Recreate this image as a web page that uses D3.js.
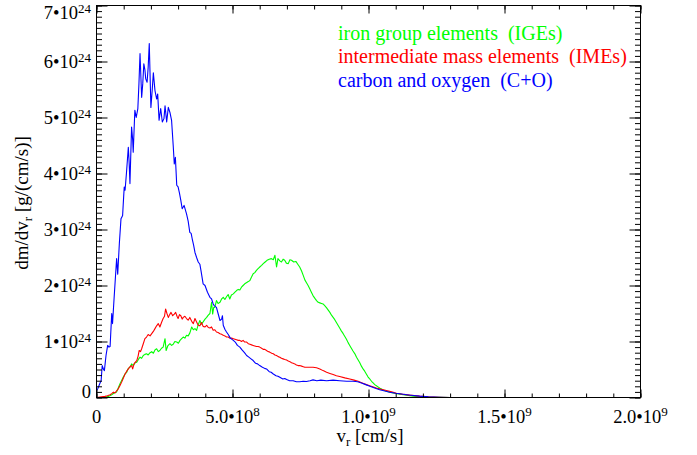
<!DOCTYPE html>
<html><head><meta charset="utf-8">
<script src="https://cdn.jsdelivr.net/npm/d3@7"></script>
<style>
body{margin:0;background:#fff}
svg{display:block}
text{font-family:"Liberation Serif","Times New Roman",serif;fill:#000}
</style>
</head><body>
<svg id="c" width="697" height="455"></svg>
<script>
// velocity in units of 1e8 cm/s, dm/dv in units of 1e24 g/(cm/s)
const VEL_UNIT = 1e8, MASS_UNIT = 1e24;

const igeData = [[0,0],[0.31,0.005],[0.45,0.02],[0.56,0.05],[0.65,0.08],[0.74,0.10],[0.80,0.17],[0.86,0.24],[0.92,0.30],[0.98,0.36],[1.05,0.42],[1.11,0.45],[1.17,0.52],[1.23,0.54],[1.29,0.60],[1.35,0.57],[1.42,0.62],[1.48,0.63],[1.54,0.68],[1.60,0.72],[1.66,0.70],[1.72,0.75],[1.78,0.77],[1.84,0.78],[1.90,0.76],[1.97,0.80],[2.03,0.82],[2.09,0.79],[2.15,0.85],[2.21,0.87],[2.27,0.82],[2.33,0.84],[2.39,0.88],[2.45,0.90],[2.52,1.05],[2.56,0.84],[2.62,0.92],[2.70,0.96],[2.76,0.93],[2.82,0.95],[2.88,1.00],[2.95,0.99],[3.01,0.97],[3.07,1.02],[3.13,1.05],[3.19,1.08],[3.25,1.06],[3.31,1.11],[3.37,1.10],[3.43,1.15],[3.50,1.26],[3.56,1.21],[3.62,1.23],[3.68,1.20],[3.74,1.30],[3.80,1.375],[3.86,1.31],[3.92,1.35],[3.99,1.40],[4.05,1.43],[4.11,1.47],[4.17,1.50],[4.23,1.70],[4.27,1.49],[4.31,1.61],[4.35,1.61],[4.41,1.73],[4.47,1.68],[4.54,1.70],[4.60,1.76],[4.66,1.79],[4.72,1.75],[4.78,1.80],[4.84,1.84],[4.90,1.76],[4.96,1.83],[5.03,1.85],[5.09,1.88],[5.15,1.91],[5.21,1.93],[5.27,1.92],[5.33,1.97],[5.39,2.00],[5.45,2.03],[5.51,2.05],[5.58,2.07],[5.64,2.09],[5.70,2.15],[5.76,2.21],[5.82,2.23],[5.88,2.27],[5.94,2.30],[6.00,2.33],[6.07,2.36],[6.13,2.39],[6.20,2.42],[6.27,2.45],[6.35,2.47],[6.43,2.48],[6.50,2.46],[6.56,2.54],[6.62,2.33],[6.67,2.48],[6.74,2.44],[6.80,2.42],[6.86,2.47],[6.92,2.45],[6.98,2.40],[7.05,2.39],[7.11,2.46],[7.17,2.45],[7.25,2.42],[7.33,2.43],[7.40,2.38],[7.47,2.33],[7.54,2.26],[7.60,2.18],[7.66,2.10],[7.72,2.05],[7.78,2.00],[7.84,1.94],[7.90,1.88],[7.96,1.82],[8.03,1.77],[8.09,1.73],[8.15,1.70],[8.21,1.69],[8.27,1.68],[8.33,1.67],[8.39,1.64],[8.46,1.60],[8.52,1.56],[8.58,1.52],[8.64,1.47],[8.70,1.43],[8.76,1.39],[8.82,1.34],[8.88,1.29],[8.94,1.24],[9.00,1.19],[9.07,1.14],[9.13,1.09],[9.19,1.04],[9.25,0.98],[9.31,0.93],[9.37,0.88],[9.43,0.83],[9.50,0.78],[9.56,0.72],[9.62,0.67],[9.68,0.62],[9.74,0.56],[9.80,0.51],[9.86,0.47],[9.92,0.42],[9.98,0.37],[10.05,0.33],[10.11,0.29],[10.17,0.26],[10.23,0.23],[10.29,0.21],[10.35,0.19],[10.42,0.165],[10.48,0.15],[10.54,0.135],[10.66,0.11],[10.78,0.095],[10.95,0.075],[11.15,0.06],[11.40,0.04],[11.64,0.025],[11.88,0.015],[12.2,0.007],[12.6,0.002],[13.0,0],[20,0]];

const imeData = [[0,0],[0.31,0.02],[0.40,0.03],[0.50,0.05],[0.56,0.07],[0.62,0.095],[0.68,0.08],[0.74,0.12],[0.80,0.155],[0.86,0.21],[0.92,0.27],[0.98,0.34],[1.05,0.42],[1.11,0.47],[1.17,0.51],[1.23,0.55],[1.29,0.57],[1.33,0.51],[1.38,0.60],[1.43,0.63],[1.48,0.66],[1.53,0.74],[1.57,0.84],[1.62,0.82],[1.66,0.87],[1.72,0.96],[1.78,1.05],[1.84,1.08],[1.90,1.125],[1.97,1.10],[2.03,1.14],[2.09,1.18],[2.15,1.23],[2.21,1.28],[2.27,1.32],[2.33,1.26],[2.39,1.34],[2.45,1.41],[2.50,1.45],[2.54,1.58],[2.59,1.50],[2.64,1.43],[2.69,1.48],[2.74,1.52],[2.80,1.46],[2.86,1.49],[2.91,1.52],[2.96,1.45],[3.00,1.41],[3.05,1.48],[3.10,1.46],[3.15,1.40],[3.19,1.43],[3.25,1.45],[3.31,1.41],[3.37,1.38],[3.43,1.43],[3.50,1.36],[3.56,1.32],[3.62,1.41],[3.68,1.35],[3.74,1.29],[3.80,1.28],[3.86,1.34],[3.92,1.27],[3.99,1.26],[4.05,1.29],[4.11,1.25],[4.17,1.24],[4.23,1.26],[4.29,1.20],[4.35,1.21],[4.41,1.17],[4.47,1.16],[4.54,1.14],[4.60,1.13],[4.66,1.11],[4.72,1.10],[4.78,1.08],[4.84,1.08],[4.90,1.06],[4.97,1.06],[5.03,1.05],[5.09,1.04],[5.15,1.03],[5.21,1.02],[5.27,1.02],[5.33,1.00],[5.39,1.02],[5.45,0.99],[5.52,0.99],[5.58,0.96],[5.64,0.95],[5.70,0.94],[5.76,0.93],[5.82,0.92],[5.88,0.91],[5.94,0.91],[6.00,0.90],[6.07,0.88],[6.13,0.86],[6.19,0.86],[6.25,0.84],[6.31,0.82],[6.37,0.81],[6.44,0.79],[6.50,0.78],[6.56,0.76],[6.62,0.75],[6.68,0.73],[6.74,0.72],[6.80,0.70],[6.86,0.69],[6.92,0.68],[6.99,0.67],[7.05,0.65],[7.11,0.64],[7.17,0.62],[7.23,0.61],[7.29,0.60],[7.35,0.58],[7.41,0.57],[7.47,0.57],[7.54,0.56],[7.60,0.55],[7.66,0.54],[7.72,0.54],[7.84,0.54],[7.96,0.54],[8.09,0.53],[8.21,0.51],[8.33,0.48],[8.46,0.45],[8.58,0.43],[8.70,0.41],[8.82,0.39],[8.94,0.375],[9.13,0.35],[9.31,0.33],[9.47,0.31],[9.62,0.29],[9.77,0.26],[9.92,0.23],[10.10,0.20],[10.29,0.17],[10.47,0.145],[10.66,0.125],[10.85,0.10],[11.03,0.075],[11.3,0.055],[11.51,0.042],[11.88,0.024],[12.2,0.012],[12.6,0.004],[13.0,0],[20,0]];

const coData = [[0,0.12],[0.05,0.16],[0.13,0.26],[0.17,0.30],[0.21,0.57],[0.26,0.50],[0.29,0.48],[0.35,0.75],[0.41,0.93],[0.46,0.90],[0.50,0.91],[0.56,1.50],[0.59,1.32],[0.65,1.80],[0.70,2.18],[0.74,2.48],[0.78,2.20],[0.84,2.75],[0.90,3.19],[0.93,3.22],[0.96,3.25],[1.00,3.60],[1.02,3.76],[1.05,3.70],[1.10,4.00],[1.17,4.47],[1.20,4.20],[1.23,3.82],[1.29,4.83],[1.33,4.60],[1.35,4.38],[1.41,5.13],[1.46,5.00],[1.52,5.16],[1.56,5.60],[1.60,6.14],[1.66,5.36],[1.70,5.60],[1.74,5.96],[1.78,5.85],[1.81,5.69],[1.86,5.63],[1.90,5.90],[1.94,6.32],[2.00,5.18],[2.05,5.50],[2.09,5.80],[2.15,5.48],[2.21,5.33],[2.25,5.42],[2.30,4.95],[2.36,5.16],[2.42,4.92],[2.48,4.98],[2.52,5.21],[2.58,4.92],[2.64,5.18],[2.70,5.09],[2.76,4.95],[2.82,4.50],[2.86,4.17],[2.90,4.29],[2.95,3.79],[3.00,3.76],[3.05,3.65],[3.10,3.52],[3.15,3.37],[3.22,3.43],[3.31,3.28],[3.37,3.15],[3.43,2.95],[3.48,2.93],[3.52,2.83],[3.57,2.72],[3.62,2.59],[3.68,2.50],[3.74,2.42],[3.80,2.38],[3.84,2.27],[3.92,2.03],[3.99,2.00],[4.08,1.88],[4.17,1.79],[4.23,1.76],[4.29,1.67],[4.33,1.64],[4.41,1.61],[4.47,1.50],[4.54,1.375],[4.60,1.40],[4.63,1.46],[4.66,1.29],[4.72,1.22],[4.78,1.17],[4.85,1.12],[4.92,1.06],[5.03,1.02],[5.10,0.99],[5.18,0.93],[5.27,0.90],[5.35,0.85],[5.44,0.80],[5.52,0.75],[5.60,0.72],[5.68,0.69],[5.76,0.66],[5.85,0.61],[5.92,0.60],[6.00,0.57],[6.10,0.54],[6.18,0.52],[6.25,0.51],[6.35,0.46],[6.42,0.45],[6.50,0.42],[6.60,0.39],[6.67,0.38],[6.74,0.36],[6.85,0.33],[6.92,0.34],[6.99,0.32],[7.10,0.30],[7.23,0.30],[7.35,0.28],[7.47,0.28],[7.60,0.29],[7.72,0.285],[7.85,0.30],[7.96,0.315],[8.10,0.30],[8.25,0.31],[8.46,0.30],[8.70,0.31],[8.94,0.30],[9.20,0.29],[9.43,0.29],[9.60,0.28],[9.74,0.26],[9.90,0.23],[10.05,0.20],[10.25,0.165],[10.41,0.14],[10.60,0.115],[10.78,0.095],[11.00,0.075],[11.15,0.066],[11.40,0.05],[11.64,0.036],[11.88,0.024],[12.2,0.012],[12.6,0.004],[13.0,0],[20,0]];

const seriesNames = ["iron group elements  (IGEs)", "intermediate mass elements  (IMEs)", "carbon and oxygen  (C+O)"];
const seriesColors = ["#00ff00", "#ff0000", "#0000ff"];

const xMajorTicks = [0, 5e8, 1e9, 1.5e9, 2e9];
const xTickMant = ["0", "5.0\u202210", "1.0\u202210", "1.5\u202210", "2.0\u202210"];
const xTickExp  = ["", "8", "9", "9", "9"];
const yMajorTicks = [0, 1e24, 2e24, 3e24, 4e24, 5e24, 6e24, 7e24];
const yTickMant = ["0", "1\u202210", "2\u202210", "3\u202210", "4\u202210", "5\u202210", "6\u202210", "7\u202210"];
const yTickExp  = ["", "24", "24", "24", "24", "24", "24", "24"];

const svg = d3.select("#c");
const L = 96.5, R = 640.5, T = 5.5, B = 397.5;
const x = d3.scaleLinear().domain([0, 2e9]).range([L, R]);
const y = d3.scaleLinear().domain([0, 7e24]).range([B, T]);

const line = d3.line().x(d => x(d[0] * VEL_UNIT)).y(d => y(d[1] * MASS_UNIT));
const plot = svg.append("g");
[igeData, imeData, coData].forEach((data, i) => {
  plot.append("path").datum(data).attr("d", line)
    .attr("fill", "none").attr("stroke", seriesColors[i])
    .attr("stroke-width", 1.1).attr("stroke-linejoin", "round");
});

const xMinor = d3.range(0, 2e9 + 1, 1e8);
const yMinor = d3.range(0, 7e24 + 1, 1e23);
function styleAxis(g) {
  g.select(".domain").remove();
  g.selectAll("text").remove();
  g.selectAll("line").attr("stroke", "#000").attr("stroke-width", 1);
}
svg.append("g").attr("transform", `translate(0,${B})`)
  .call(d3.axisBottom(x).tickValues(xMinor).tickSize(-4)).call(styleAxis);
svg.append("g").attr("transform", `translate(0,${B})`)
  .call(d3.axisBottom(x).tickValues(xMajorTicks).tickSize(-8)).call(styleAxis);
svg.append("g").attr("transform", `translate(0,${T})`)
  .call(d3.axisTop(x).tickValues(xMinor).tickSize(-4)).call(styleAxis);
svg.append("g").attr("transform", `translate(0,${T})`)
  .call(d3.axisTop(x).tickValues(xMajorTicks).tickSize(-8)).call(styleAxis);
svg.append("g").attr("transform", `translate(${L},0)`)
  .call(d3.axisLeft(y).tickValues(yMinor).tickSize(-5.5)).call(styleAxis);
svg.append("g").attr("transform", `translate(${L},0)`)
  .call(d3.axisLeft(y).tickValues(yMajorTicks).tickSize(-11)).call(styleAxis);
svg.append("g").attr("transform", `translate(${R},0)`)
  .call(d3.axisRight(y).tickValues(yMinor).tickSize(-5.5)).call(styleAxis);
svg.append("g").attr("transform", `translate(${R},0)`)
  .call(d3.axisRight(y).tickValues(yMajorTicks).tickSize(-11)).call(styleAxis);

svg.append("rect").attr("x", L).attr("y", T).attr("width", R - L).attr("height", B - T)
  .attr("fill", "none").attr("stroke", "#000").attr("stroke-width", 1);

const FS = 18.5, SFS = 13;
xMajorTicks.forEach((v, i) => {
  const t = svg.append("text").attr("x", x(v)).attr("y", 423)
    .attr("text-anchor", "middle").attr("font-size", FS);
  t.append("tspan").text(xTickMant[i]);
  if (xTickExp[i]) t.append("tspan").attr("dy", -7).attr("font-size", SFS).text(xTickExp[i]);
});
yMajorTicks.forEach((v, i) => {
  const base = Math.max(18.5, Math.min(397.5, y(v) + 6));
  const t = svg.append("text").attr("x", 91).attr("y", base)
    .attr("text-anchor", "end").attr("font-size", FS);
  t.append("tspan").text(yTickMant[i]);
  if (yTickExp[i]) t.append("tspan").attr("dy", -6).attr("font-size", SFS).text(yTickExp[i]);
});

const xt = svg.append("text").attr("x", 370).attr("y", 442)
  .attr("text-anchor", "middle").attr("font-size", 19);
xt.append("tspan").text("v");
xt.append("tspan").attr("dy", 4).attr("font-size", 13).text("r");
xt.append("tspan").attr("dy", -4).text(" [cm/s]");

const yt = svg.append("text").attr("transform", "translate(28,203) rotate(-90)")
  .attr("text-anchor", "middle").attr("font-size", 19);
yt.append("tspan").text("dm/dv");
yt.append("tspan").attr("dy", 4).attr("font-size", 13).text("r");
yt.append("tspan").attr("dy", -4).text(" [g/(cm/s)]");

const legendY = [39.5, 63.3, 86.7];
seriesNames.forEach((n, i) => {
  svg.append("text").attr("x", 338).attr("y", legendY[i])
    .attr("font-size", 20).style("white-space", "pre")
    .style("fill", seriesColors[i]).text(n);
});
</script>
</body></html>
